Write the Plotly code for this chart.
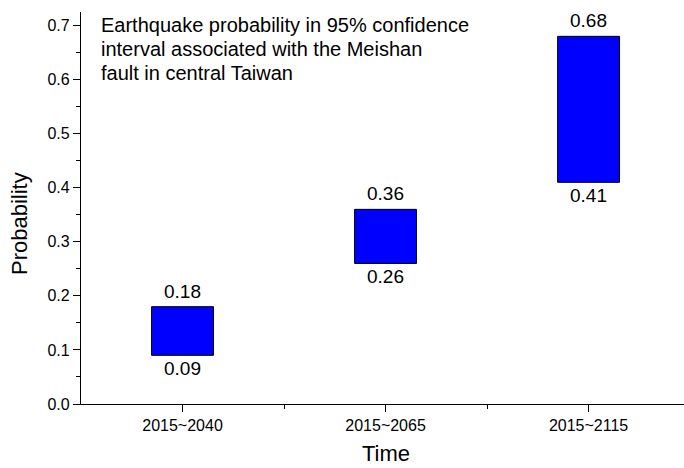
import plotly.graph_objects as go

categories = ["2015~2040", "2015~2065", "2015~2115"]
lower = [0.09, 0.26, 0.41]
upper = [0.18, 0.36, 0.68]
y_ticks = [0.0, 0.1, 0.2, 0.3, 0.4, 0.5, 0.6, 0.7]
note_lines = [
    "Earthquake probability in 95% confidence",
    "interval associated with the Meishan",
    "fault in central Taiwan",
]

xpos = list(range(len(categories)))
heights = [u - l for u, l in zip(upper, lower)]

FONT = "Liberation Sans, Arial, sans-serif"
PLOT_TOP, PLOT_BOTTOM, PLOT_LEFT, PLOT_RIGHT = 12, 404, 81, 684
PH = PLOT_BOTTOM - PLOT_TOP
PW = PLOT_RIGHT - PLOT_LEFT

fig = go.Figure()
fig.add_trace(go.Bar(
    x=xpos, y=heights, base=lower, width=0.305,
    marker=dict(color="#0000FF", line=dict(color="black", width=1)),
    hoverinfo="skip", showlegend=False,
))

annotations = []
for xi, u, l in zip(xpos, upper, lower):
    annotations.append(dict(x=xi, y=u, xref="x", yref="y", text=f"{u:.2f}", showarrow=False,
                            xanchor="center", yanchor="bottom", yshift=3,
                            font=dict(size=19, family=FONT, color="black")))
    annotations.append(dict(x=xi, y=l, xref="x", yref="y", text=f"{l:.2f}", showarrow=False,
                            xanchor="center", yanchor="top", yshift=-1,
                            font=dict(size=19, family=FONT, color="black")))

for i, line in enumerate(note_lines):
    py = 25 + 24 * i
    annotations.append(dict(text=line, xref="paper", yref="paper", x=(99 - PLOT_LEFT) / PW,
                            y=(PLOT_BOTTOM - py) / PH, xanchor="left", yanchor="middle",
                            showarrow=False, font=dict(size=20, family=FONT, color="black")))

annotations.append(dict(text="Time", xref="paper", yref="paper", x=(386 - PLOT_LEFT) / PW, y=0,
                        yshift=-(453 - PLOT_BOTTOM), xanchor="center", yanchor="middle",
                        showarrow=False, font=dict(size=22, family=FONT, color="black")))
annotations.append(dict(text="Probability", xref="paper", yref="paper", x=0, xshift=-(PLOT_LEFT - 19),
                        y=(PLOT_BOTTOM - 224) / PH, xanchor="center", yanchor="middle",
                        textangle=-90, showarrow=False,
                        font=dict(size=22, family=FONT, color="black")))

fig.update_layout(
    width=684, height=468,
    margin=dict(l=PLOT_LEFT, r=684 - PLOT_RIGHT, t=PLOT_TOP, b=468 - PLOT_BOTTOM),
    plot_bgcolor="white", paper_bgcolor="white",
    font=dict(family=FONT, color="black"),
    xaxis=dict(
        range=[-0.5, 2.47], tickmode="array", tickvals=xpos, ticktext=categories,
        showline=True, linecolor="black", linewidth=1.2, showgrid=False, zeroline=False,
        ticks="outside", ticklen=7, tickwidth=1.2, tickcolor="black",
        tickfont=dict(size=16, family=FONT, color="black"),
        minor=dict(tickmode="array", tickvals=[0.5, 1.5], ticks="outside", ticklen=4,
                   tickwidth=1.2, tickcolor="black", showgrid=False),
    ),
    yaxis=dict(
        range=[0, 0.725], tickmode="array", tickvals=y_ticks,
        ticktext=[f"{v:.1f}" for v in y_ticks],
        showline=True, linecolor="black", linewidth=1.2, showgrid=False, zeroline=False,
        ticks="outside", ticklen=7, tickwidth=1.2, tickcolor="black",
        tickfont=dict(size=16, family=FONT, color="black"),
        minor=dict(tickmode="array", tickvals=[0.05, 0.15, 0.25, 0.35, 0.45, 0.55, 0.65],
                   ticks="outside", ticklen=4, tickwidth=1.2, tickcolor="black", showgrid=False),
    ),
    annotations=annotations,
)

fig.write_html("out.html")
